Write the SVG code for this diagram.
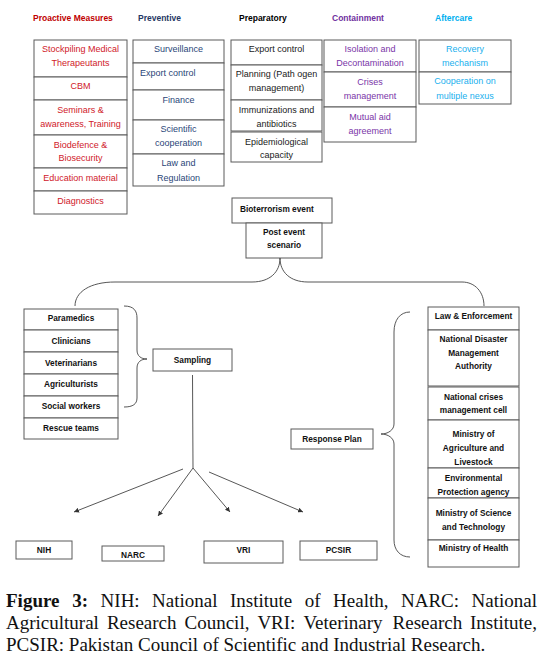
<svg xmlns="http://www.w3.org/2000/svg" width="540" height="667" viewBox="0 0 540 667">
<defs>
<style>
.bx{fill:#fff;stroke:#5a5a5a;stroke-width:1}
.t{font-family:"Liberation Sans",Arial,sans-serif;font-size:9px;text-anchor:middle}
.b{font-family:"Liberation Sans",Arial,sans-serif;font-size:8.3px;font-weight:bold;text-anchor:middle;fill:#111}
.st{text-anchor:start}
.h{font-family:"Liberation Sans",Arial,sans-serif;font-size:8.5px;font-weight:bold}
.red{fill:#d0202a}.navy{fill:#2a4678}.blk{fill:#1a1a1a}.pur{fill:#7a35a8}.sky{fill:#19b0ee}
.cap{font-family:"Liberation Serif","Times New Roman",serif;font-size:19px;fill:#111}
.ln{fill:none;stroke:#444;stroke-width:0.9}
</style>
<marker id="ah" viewBox="0 0 6 6" refX="6" refY="3" markerWidth="5" markerHeight="5" orient="auto" markerUnits="userSpaceOnUse">
<path d="M0,0 L6,3 L0,6 z" fill="#333"/>
</marker>
</defs>
<rect width="540" height="667" fill="#fff"/>

<g id="headers">
<text class="h" x="33" y="21" fill="#c00000">Proactive Measures</text>
<text class="h" x="138" y="21" fill="#1f3864">Preventive</text>
<text class="h" x="239" y="21" fill="#000">Preparatory</text>
<text class="h" x="332" y="21" fill="#7030a0">Containment</text>
<text class="h" x="435" y="21" fill="#00b0f0">Aftercare</text>
</g>

<g id="proactive">
<g id="p1"><rect class="bx" x="34" y="40" width="93" height="37"/><text class="t red" x="80.5" y="52">Stockpiling Medical</text><text class="t red" x="80.5" y="66">Therapeutants</text></g>
<g id="p2"><rect class="bx" x="34" y="77" width="93" height="23"/><text class="t red" x="80.5" y="89">CBM</text></g>
<g id="p3"><rect class="bx" x="34" y="100" width="93" height="35"/><text class="t red" x="80.5" y="113">Seminars &amp;</text><text class="t red" x="80.5" y="127">awareness, Training</text></g>
<g id="p4"><rect class="bx" x="34" y="135" width="93" height="33"/><text class="t red" x="80.5" y="148">Biodefence &amp;</text><text class="t red" x="80.5" y="161">Biosecurity</text></g>
<g id="p5"><rect class="bx" x="34" y="168" width="93" height="23"/><text class="t red" x="80.5" y="181">Education material</text></g>
<g id="p6"><rect class="bx" x="34" y="191" width="93" height="23"/><text class="t red" x="80.5" y="204">Diagnostics</text></g>
</g>

<g id="preventive">
<g id="v1"><rect class="bx" x="133" y="40" width="91" height="23"/><text class="t navy" x="178.5" y="52">Surveillance</text></g>
<g id="v2"><rect class="bx" x="133" y="63" width="91" height="27"/><text class="t navy st" x="140" y="76">Export control</text></g>
<g id="v3"><rect class="bx" x="133" y="90" width="91" height="30"/><text class="t navy" x="178.5" y="103">Finance</text></g>
<g id="v4"><rect class="bx" x="133" y="120" width="91" height="34"/><text class="t navy" x="178.5" y="132">Scientific</text><text class="t navy" x="178.5" y="146">cooperation</text></g>
<g id="v5"><rect class="bx" x="133" y="154" width="91" height="32"/><text class="t navy" x="178.5" y="166">Law and</text><text class="t navy" x="178.5" y="181">Regulation</text></g>
</g>

<g id="preparatory">
<g id="r1"><rect class="bx" x="231" y="40" width="91" height="25"/><text class="t blk" x="276.5" y="52">Export control</text></g>
<g id="r2"><rect class="bx" x="231" y="65" width="91" height="35"/><text class="t blk" x="276.5" y="77">Planning (Path ogen</text><text class="t blk" x="276.5" y="91">management)</text></g>
<g id="r3"><rect class="bx" x="231" y="100" width="91" height="31"/><text class="t blk" x="276.5" y="113">Immunizations and</text><text class="t blk" x="276.5" y="127">antibiotics</text></g>
<g id="r4"><rect class="bx" x="231" y="132" width="91" height="30"/><text class="t blk" x="276.5" y="145">Epidemiological</text><text class="t blk" x="276.5" y="158">capacity</text></g>
</g>

<g id="containment">
<g id="c1"><rect class="bx" x="324" y="40" width="92" height="32"/><text class="t pur" x="370" y="52">Isolation and</text><text class="t pur" x="370" y="66">Decontamination</text></g>
<g id="c2"><rect class="bx" x="324" y="72" width="92" height="35"/><text class="t pur" x="370" y="85">Crises</text><text class="t pur" x="370" y="99">management</text></g>
<g id="c3"><rect class="bx" x="324" y="107" width="92" height="35"/><text class="t pur" x="370" y="120">Mutual aid</text><text class="t pur" x="370" y="134">agreement</text></g>
</g>

<g id="aftercare">
<g id="a1"><rect class="bx" x="419" y="40" width="92" height="32"/><text class="t sky" x="465" y="52">Recovery</text><text class="t sky" x="465" y="66">mechanism</text></g>
<g id="a2"><rect class="bx" x="419" y="72" width="92" height="32"/><text class="t sky" x="465" y="84">Cooperation on</text><text class="t sky" x="465" y="99">multiple nexus</text></g>
</g>

<g id="bioterrorism"><rect class="bx" x="232" y="198" width="100" height="25"/><text class="b st" x="240" y="212">Bioterrorism event</text></g>
<g id="postevent"><rect class="bx" x="246" y="223" width="76" height="35"/><text class="b" x="284" y="235">Post event</text><text class="b" x="284" y="248">scenario</text></g>

<g id="actors">
<g id="l1"><rect class="bx" x="24" y="309" width="94" height="21"/><text class="b" x="71" y="321">Paramedics</text></g>
<g id="l2"><rect class="bx" x="24" y="330" width="94" height="22"/><text class="b" x="71" y="344">Clinicians</text></g>
<g id="l3"><rect class="bx" x="24" y="352" width="94" height="22"/><text class="b" x="71" y="366">Veterinarians</text></g>
<g id="l4"><rect class="bx" x="24" y="374" width="94" height="22"/><text class="b" x="71" y="387">Agriculturists</text></g>
<g id="l5"><rect class="bx" x="24" y="396" width="94" height="22"/><text class="b" x="71" y="409">Social workers</text></g>
<g id="l6"><rect class="bx" x="24" y="418" width="94" height="21"/><text class="b" x="71" y="431">Rescue teams</text></g>
</g>

<g id="sampling"><rect class="bx" x="153" y="349" width="79" height="22"/><text class="b" x="192.5" y="363">Sampling</text></g>
<g id="response"><rect class="bx" x="291" y="429" width="82" height="20"/><text class="b" x="332" y="442">Response Plan</text></g>

<g id="agencies">
<g id="g1"><rect class="bx" x="428" y="307" width="91" height="23"/><text class="b" x="473.5" y="319">Law &amp; Enforcement</text></g>
<g id="g2"><rect class="bx" x="428" y="330" width="91" height="56"/><text class="b" x="473.5" y="342">National Disaster</text><text class="b" x="473.5" y="356">Management</text><text class="b" x="473.5" y="369">Authority</text></g>
<g id="g3"><rect class="bx" x="428" y="387" width="91" height="33"/><text class="b" x="473.5" y="400">National crises</text><text class="b" x="473.5" y="413">management cell</text></g>
<g id="g4"><rect class="bx" x="428" y="420" width="91" height="48"/><text class="b" x="473.5" y="437">Ministry of</text><text class="b" x="473.5" y="451">Agriculture and</text><text class="b" x="473.5" y="465">Livestock</text></g>
<g id="g5"><rect class="bx" x="428" y="468" width="91" height="30"/><text class="b" x="473.5" y="481">Environmental</text><text class="b" x="473.5" y="495">Protection agency</text></g>
<g id="g6"><rect class="bx" x="428" y="498" width="91" height="42"/><text class="b" x="473.5" y="516">Ministry of Science</text><text class="b" x="473.5" y="530">and Technology</text></g>
<g id="g7"><rect class="bx" x="428" y="540" width="91" height="27"/><text class="b" x="473.5" y="551">Ministry of Health</text></g>
</g>

<g id="labs">
<g id="nih"><rect class="bx" x="16" y="541" width="56" height="18"/><text class="b" x="44" y="553">NIH</text></g>
<g id="narc"><rect class="bx" x="102" y="546" width="62" height="15"/><text class="b" x="133" y="558">NARC</text></g>
<g id="vri"><rect class="bx" x="204" y="541" width="79" height="22"/><text class="b" x="243.5" y="553">VRI</text></g>
<g id="pcsir"><rect class="bx" x="300" y="541" width="77" height="19"/><text class="b" x="338.5" y="553">PCSIR</text></g>
</g>

<g id="connectors">
<path class="ln" d="M280,258 C280,272 270,282 252,282 L115,282 C90,282 75,292 75,306"/>
<path class="ln" d="M280,258 C280,272 290,282 308,282 L462,282 C475,282 484,292 484,306"/>
<path class="ln" d="M124,306 C134,306 137,311 137,318 L137,350 C137,356 141,359 147,359 C141,359 137,362 137,368 L137,398 C137,404 133,407 124,407"/>
<path class="ln" d="M410,312 C400,312 394,320 394,332 L394,424 C394,430 388,434 381,434 C388,434 394,438 394,444 L394,540 C394,550 400,557 410,557"/>
<line class="ln" x1="192.5" y1="375" x2="193" y2="468"/>
<line class="ln" x1="183" y1="469" x2="74" y2="512" marker-end="url(#ah)"/>
<line class="ln" x1="193" y1="468" x2="158" y2="516" marker-end="url(#ah)"/>
<line class="ln" x1="193" y1="468" x2="230" y2="512" marker-end="url(#ah)"/>
<line class="ln" x1="209" y1="472" x2="303" y2="512" marker-end="url(#ah)"/>
</g>

<g id="caption">
<text class="cap" y="607"><tspan x="6" font-weight="bold">Figure</tspan><tspan x="72.3" font-weight="bold">3:</tspan><tspan x="100.6">NIH:</tspan><tspan x="152.1">National</tspan><tspan x="230">Institute</tspan><tspan x="304.8">of</tspan><tspan x="333.1">Health,</tspan><tspan x="401">NARC:</tspan><tspan x="537" text-anchor="end">National</tspan></text>
<text class="cap" y="629"><tspan x="6">Agricultural</tspan><tspan x="106.9">Research</tspan><tspan x="184.5">Council,</tspan><tspan x="257.4">VRI:</tspan><tspan x="303.4">Veterinary</tspan><tspan x="392.6">Research</tspan><tspan x="537" text-anchor="end">Institute,</tspan></text>
<text class="cap" x="6" y="651">PCSIR: Pakistan Council of Scientific and Industrial Research.</text>
</g>
</svg>
